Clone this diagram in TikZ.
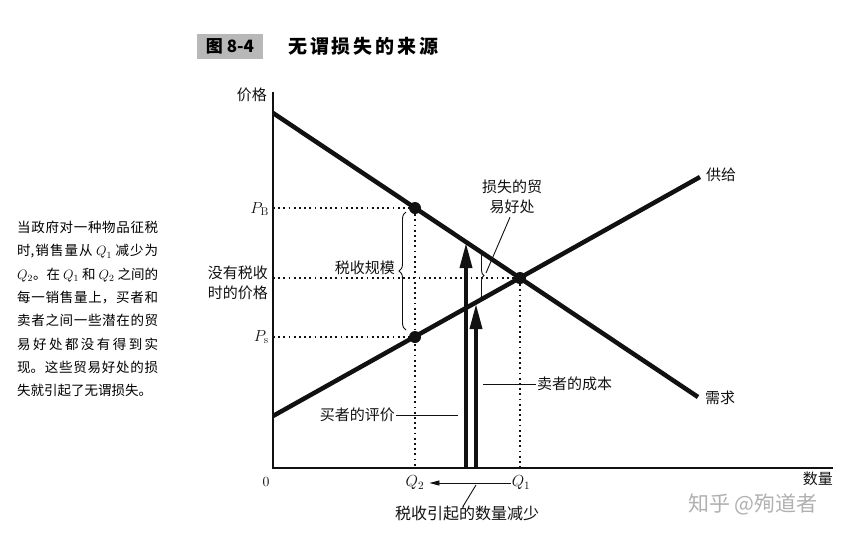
\RequirePackage{fix-cm}
\documentclass[tikz,border=0pt]{standalone}
\usepackage{fontspec}
\newfontfamily\cjk{Noto Sans CJK SC}
\XeTeXlinebreaklocale "zh"
\XeTeXlinebreakskip=0pt plus 3pt
\usetikzlibrary{positioning, calc, arrows.meta, decorations.pathreplacing}
\definecolor{inkBlack}{HTML}{111111}
\definecolor{boxGray}{HTML}{B8B8B8}
\definecolor{markGray}{HTML}{B0B0B0}

\tikzset{
	curve/.style={draw=inkBlack, line width=4.5pt},
	axis/.style={draw=inkBlack, line width=2.6pt},
	guide/.style={draw=inkBlack, line width=1.8pt, dash pattern=on 1.8pt off 3.4pt},
	eqdot/.style={circle, fill=inkBlack, inner sep=0pt, minimum size=12pt},
	lbl/.style={font=\cjk\fontsize{15}{20}\selectfont, text=inkBlack, inner sep=1pt},
	mathlbl/.style={font=\fontsize{16}{18}\selectfont, text=inkBlack, inner sep=1pt},
	leader/.style={draw=inkBlack, line width=0.9pt},
	bigarrow/.style={draw=inkBlack, line width=3.6pt, -{Triangle[length=25pt, width=12pt]}},
	bracer/.style={draw=inkBlack, decorate, decoration={brace, amplitude=#1}, line width=0.9pt},
}

\begin{document}
\begin{tikzpicture}[x=1pt, y=-1pt]
	\useasboundingbox (0,0) rectangle (855,539);

	% title
	\node[fill=boxGray, minimum width=66pt, minimum height=25pt, inner sep=0pt,
	font=\cjk\bfseries\fontsize{17}{20}\selectfont] (fig) at (230,46) {图 \textbf{8-4}};
	\node[anchor=west, inner sep=0pt, font=\cjk\bfseries\fontsize{19}{20}\selectfont] (ttl) at (288,46)
	{\makebox[150pt][s]{无\hfill 谓\hfill 损\hfill 失\hfill 的\hfill 来\hfill 源}};

	% side note
	\node[anchor=north west, inner sep=0pt, text width=141pt, align=justify,
	font=\cjk\fontsize{13.5}{23.3}\selectfont] (note) at (17,221)
	{当政府对一种物品征税\linebreak
		时,销售量从 $Q_1$ 减少为\linebreak
		$Q_2$。在 $Q_1$ 和 $Q_2$ 之间的\linebreak
		每一销售量上，买者和\linebreak
		卖者之间一些潜在的贸\linebreak
		易好处都没有得到实\linebreak
		现。这些贸易好处的损\linebreak
		失就引起了无谓损失。};

	% axes
	\coordinate (orig) at (273,468);
	\coordinate (ytop) at (273,92);
	\coordinate (xend) at (833,468);
	\draw[axis] (ytop) -- (orig) -- (xend);
	\node[lbl, anchor=east] (plabel) at (268,95) {价格};
	\node[lbl, anchor=north east] (qaxis) at (834,471) {数量};
	\node[font=\fontsize{14}{16}\selectfont] (zero) at (266,482) {0};

	% curves
	\coordinate (d1) at (273,113);
	\coordinate (d2) at (698,397);
	\coordinate (s1) at (273,416);
	\coordinate (s2) at (700,177);
	\draw[curve] (d1) -- (d2);
	\draw[curve] (s1) -- (s2);
	\node[lbl, anchor=west] (supply) at (705,175) {供给};
	\node[lbl, anchor=west] (demand) at (704,398) {需求};

	% prices and quantities
	\node[eqdot] (pb) at (415,208) {};
	\node[eqdot] (ps) at (415,337) {};
	\node[eqdot] (eq) at (520,278) {};
	\draw[guide] (orig |- pb) -- (pb);
	\draw[guide] (orig |- eq) -- (eq);
	\draw[guide] (orig |- ps) -- (ps);
	\draw[guide] (pb) -- (pb |- orig);
	\draw[guide] (eq) -- (eq |- orig);

	\node[mathlbl, anchor=east] (pblabel) at (270,209) {$P_{\mathrm{B}}$};
	\node[mathlbl, anchor=east] (pslabel) at (270,337) {$P_{\mathrm{s}}$};
	\node[lbl, anchor=east, align=left] (notax) at (269,283) {没有税收\\时的价格};

	% tax wedge
	\draw[bracer=7pt] (406,330) -- (406,212);
	\node[lbl, anchor=east] (wedge) at (396,268) {税收规模};

	% buyer value and seller cost
	\coordinate (bv0) at (466,468);
	\coordinate (bv1) at (466,243);
	\coordinate (sc0) at (476,468);
	\coordinate (sc1) at (476,304);
	\draw[bigarrow] (bv0) -- (bv1);
	\draw[bigarrow] (sc0) -- (sc1);

	\node[lbl, anchor=east] (bvlabel) at (396,415) {买者的评价};
	\coordinate (bvend) at (458,415);
	\draw[leader] (bvlabel.east) -- (bvend);
	\node[lbl, anchor=west] (sclabel) at (536,384) {卖者的成本};
	\coordinate (scend) at (483,384);
	\draw[leader] (sclabel.west) -- (scend);

	% lost gains from trade
	\draw[bracer=5pt] (479,250) -- (479,301);
	\node[lbl, align=center] (loss) at (512,197) {损失的贸\\易好处};
	\coordinate (losstip) at (486,273);
	\draw[leader] (losstip) -- ($(loss.south)+(-2,2)$);

	% quantity reduction
	\node[mathlbl] (q2) at (415,483) {$Q_2$};
	\node[mathlbl] (q1) at (521,483) {$Q_1$};
	\draw[leader, -{Triangle[length=10pt, width=5pt]}] (q1.west) -- ([xshift=4pt]q2.east);
	\node[lbl, font=\cjk\fontsize{16}{18}\selectfont] (qdrop) at (467,513) {税收引起的数量减少};
	\coordinate (qtick) at (476,485);
	\draw[leader] (qtick) -- ($(qdrop.north)+(-4,2)$);

	% watermark
	\node[font=\cjk\fontsize{21}{24}\selectfont, text=markGray] (mark) at (753,504) {知乎 @殉道者};
\end{tikzpicture}
\end{document}
